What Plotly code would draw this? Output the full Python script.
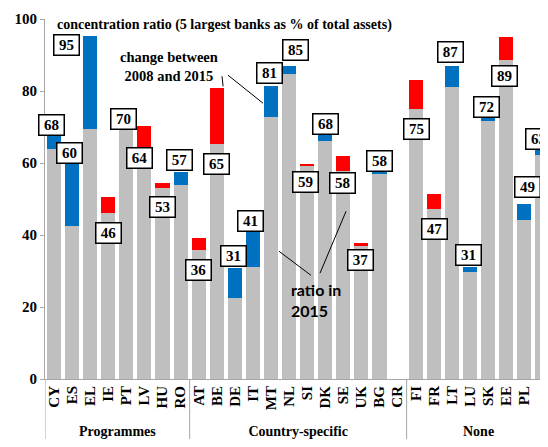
import plotly.graph_objects as go

countries = ["CY","ES","EL","IE","PT","LV","HU","RO",
             "AT","BE","DE","IT","MT","NL","SI","DK","SE","UK","BG","CR",
             "FI","FR","LT","LU","SK","EE","PL","CZ"]
cr5_2008 = [63.8,42.4,69.4,50.5,69.3,70.2,54.4,53.8,
            39.1,80.9,22.6,31.2,72.7,84.7,59.6,66.1,61.9,37.8,57.2,None,
            83.0,51.3,81.0,29.6,71.7,94.9,44.1,62.3]
cr5_2015 = [67.4,60.4,95.3,46.0,69.8,64.4,53.1,57.5,
            35.8,65.2,30.8,41.2,81.3,86.9,59.2,67.8,57.7,36.9,57.6,None,
            75.0,47.1,86.9,31.1,72.6,88.5,48.5,63.5]
labels_2015 = ["68","60","95","46","70","64","53","57",
               "36","65","31","41","81","85","59","68","58","37","58","",
               "75","47","87","31","72","89","49","63"]
groups = ["Programmes", "Country-specific<br>recommendations", "None"]
group_sizes = [8, 12, 8]
y_ticks = [0, 20, 40, 60, 80, 100]

# label box placement (pixel shifts relative to bar top)
label_dy = [11,9,-9,-36,9,-32,-24,12,
            -32,-76,12,10,13,16,-18,11,-27,-17,11,0,
            -49,-35,14,12,11,-39,17,11]
label_dx = [-3,-3,-24,0,-3,-5,0,-1,
            0,0,-1,-2,-2,6,-2,0,-1,-1,0,0,
            1,1,-1,-1,-1,-2,3,-4]

SERIF = "Liberation Serif"
GRAY = "#BFBFBF"
BLUE = "#0070C0"
RED = "#FF0000"
AXIS = "#A6A6A6"

base, inc, dec, top = [], [], [], []
for a, b in zip(cr5_2008, cr5_2015):
    if a is None:
        base.append(None); inc.append(None); dec.append(None); top.append(0)
        continue
    base.append(min(a, b))
    inc.append(b - a if b > a else 0)
    dec.append(a - b if a > b else 0)
    top.append(max(a, b))

idx = list(range(len(countries)))
fig = go.Figure()
fig.add_bar(x=idx, y=base, marker_color=GRAY, marker_line_width=0, hoverinfo="skip")
fig.add_bar(x=idx, y=inc, marker_color=BLUE, marker_line_width=0, hoverinfo="skip")
fig.add_bar(x=idx, y=dec, marker_color=RED, marker_line_width=0, hoverinfo="skip")

for i, lab in enumerate(labels_2015):
    if not lab:
        continue
    fig.add_annotation(x=i, y=top[i], xref="x", yref="y", text=lab,
                       showarrow=False, yshift=label_dy[i], xshift=label_dx[i],
                       font=dict(family=SERIF, size=15, color="black", weight="bold"),
                       bgcolor="white", bordercolor="black", borderwidth=1.5,
                       borderpad=2, width=20, height=15)

fig.add_annotation(x=0.08, y=98.3, xref="x", yref="y", yanchor="middle",
                   xanchor="left", showarrow=False,
                   text="concentration ratio (5 largest banks as % of total assets)",
                   font=dict(family=SERIF, size=14, color="black", weight="bold"))

fig.add_annotation(x=6.37, y=86.9, xref="x", yref="y", showarrow=False,
                   text="change between<br>2008 and 2015",
                   font=dict(family=SERIF, size=14.5, color="black", weight="bold"))
fig.add_annotation(x=12.98, y=21.9, xref="x", yref="y", showarrow=False, align="left",
                   xanchor="left", text="ratio in<br>2015",
                   font=dict(family="Lato", size=16, color="black", weight="bold"))
for x0, y0, x1, y1 in [(9.29, 84.1, 9.35, 81.3), (9.62, 84.4, 11.56, 76.6),
                       (12.44, 35.5, 14.21, 28.8), (14.71, 29.4, 16.15, 46.6)]:
    fig.add_shape(type="line", x0=x0, y0=y0, x1=x1, y1=y1, xref="x", yref="y",
                  line=dict(color="black", width=1))

start = 0
for g, n in zip(groups, group_sizes):
    fig.add_annotation(x=start + (n - 1) / 2, y=-0.12, xref="x", yref="paper",
                       yanchor="top", showarrow=False, text=g,
                       font=dict(family=SERIF, size=14, color="black", weight="bold"))
    fig.add_shape(type="line", x0=start - 0.5, x1=start - 0.5, y0=0, y1=-0.25,
                  xref="x", yref="paper", line=dict(color=AXIS, width=1))
    start += n

# page body has an 8px margin; size the figure so the plot lands where the reference has it
fig.update_layout(
    barmode="stack", bargap=0.22, showlegend=False,
    width=540, height=431, margin=dict(l=37, r=0, t=11, b=60),
    plot_bgcolor="white", paper_bgcolor="white",
)
fig.update_xaxes(range=[-0.5, 27.32], tickmode="array", tickvals=idx, ticktext=countries,
                 tickangle=-90, automargin=False,
                 tickfont=dict(family=SERIF, size=15, color="black", weight="bold"),
                 showline=True, linecolor=AXIS, linewidth=1, ticks="",
                 showgrid=False, zeroline=False)
fig.update_yaxes(range=[0, 100], tickvals=y_ticks, automargin=False,
                 tickfont=dict(family=SERIF, size=15, color="black", weight="bold"),
                 showline=True, linecolor=AXIS, linewidth=1, ticks="outside",
                 ticklen=4, tickcolor=AXIS, showgrid=False, zeroline=False)

fig.write_html("out.html")
